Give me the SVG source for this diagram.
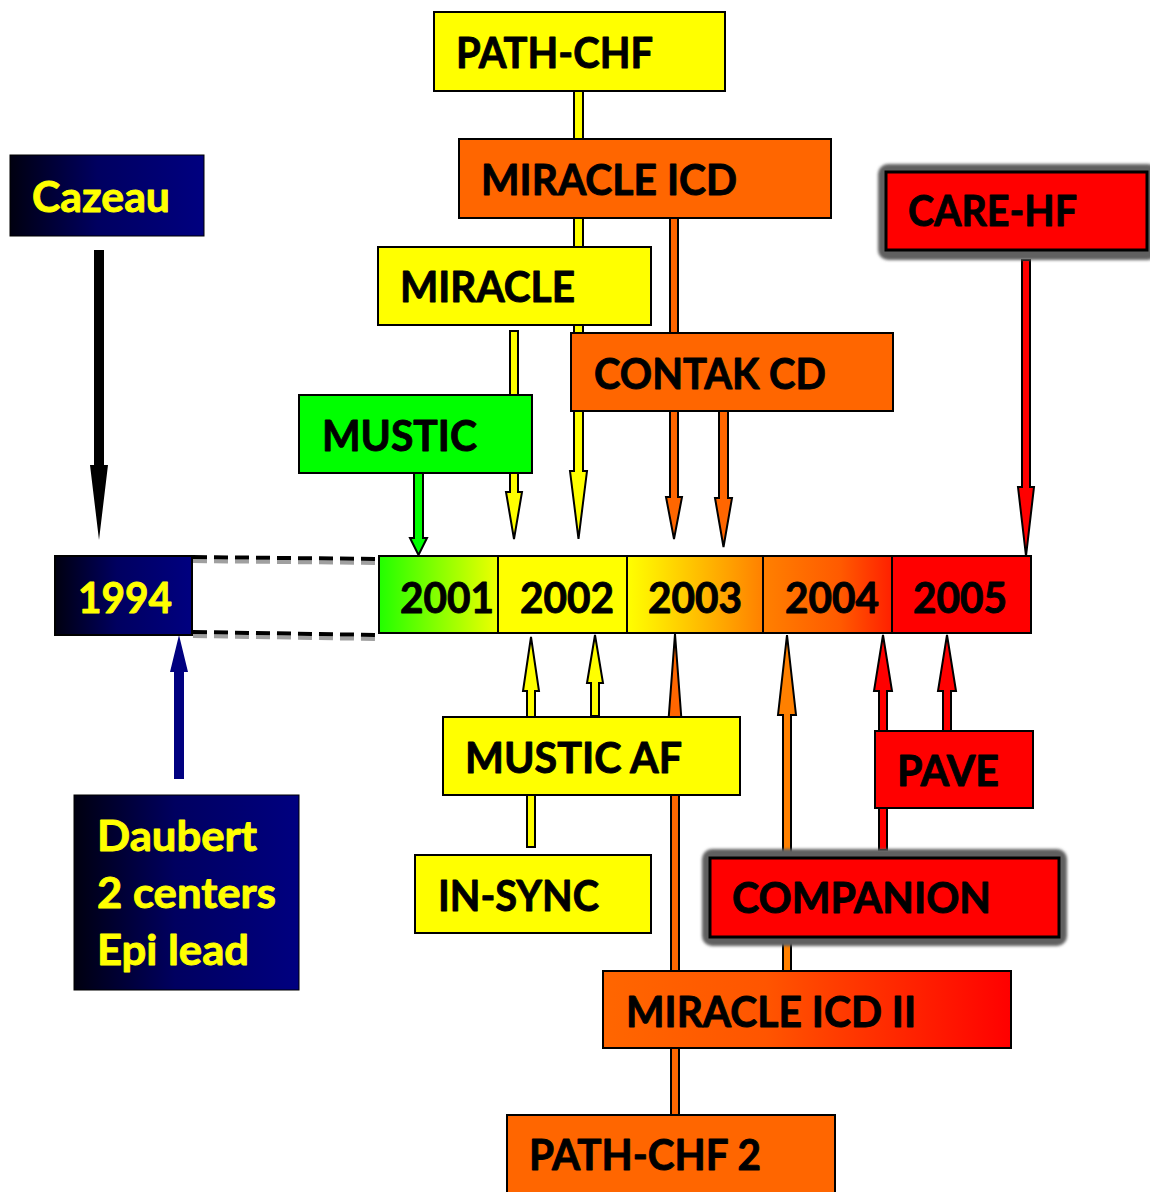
<svg xmlns="http://www.w3.org/2000/svg" width="1150" height="1192" viewBox="0 0 1150 1192">
<defs>
<linearGradient id="gNavy" x1="0" y1="0" x2="1" y2="0">
<stop offset="0" stop-color="#000010"/><stop offset="0.45" stop-color="#000060"/><stop offset="1" stop-color="#000080"/>
</linearGradient>
<linearGradient id="g2001" x1="0" y1="0" x2="1" y2="0">
<stop offset="0" stop-color="#22ff00"/><stop offset="1" stop-color="#eeff00"/>
</linearGradient>
<linearGradient id="g2003" x1="0" y1="0" x2="1" y2="0">
<stop offset="0" stop-color="#ffff00"/><stop offset="0.2" stop-color="#ffe800"/><stop offset="1" stop-color="#ff8000"/>
</linearGradient>
<linearGradient id="g2004" x1="0" y1="0" x2="1" y2="0">
<stop offset="0" stop-color="#ff8000"/><stop offset="0.6" stop-color="#ff5a00"/><stop offset="1" stop-color="#ff2000"/>
</linearGradient>
<linearGradient id="gICD2" x1="0" y1="0" x2="1" y2="0">
<stop offset="0" stop-color="#ff6600"/><stop offset="0.4" stop-color="#ff5500"/><stop offset="1" stop-color="#ff0000"/>
</linearGradient>
<filter id="blur" x="-10%" y="-20%" width="120%" height="140%">
<feGaussianBlur stdDeviation="1.8"/>
</filter>
</defs>
<style>
.t{font-family:Lato,"Open Sans","Liberation Sans",sans-serif;font-weight:bold;font-size:42px;fill:#000;stroke:#000;stroke-width:0.9;stroke-linejoin:round}
.y{fill:#ffff00;stroke:#ffff00}
.bx{stroke:#000;stroke-width:2}
.yel{fill:#ffff00}
.org{fill:#ff6600}
.red{fill:#ff0000}
.arr{stroke:#000;stroke-width:2;stroke-linejoin:miter}
.dash{fill:none;stroke:#000;stroke-width:4;stroke-dasharray:14 7}
.dsh{fill:none;stroke:#a0a0a0;stroke-width:4;stroke-dasharray:14 7}
.cell{fill:none;stroke:#000;stroke-width:2}
.shadow{fill:#606060}
</style>
<rect width="1150" height="1192" fill="#fff"/>

<g id="connectors">
<line class="dsh" x1="193" y1="561" x2="377" y2="563"/>
<line class="dash" x1="193" y1="557" x2="377" y2="559"/>
<line class="dsh" x1="193" y1="636" x2="377" y2="639"/>
<line class="dash" x1="193" y1="632" x2="377" y2="635"/>
<polygon fill="#000" points="94,250 104,250 104,465 108,465 99,540 90,465 94,465"/>
<polygon class="arr" fill="#00ff00" points="414,473 423,473 423,538 427,538 418.5,555 410,538 414,538"/>
<polygon class="arr yel" points="510,331 518,331 518,492 522,492 514,539 506,492 510,492"/>
<polygon class="arr yel" points="574,91 583,91 583,471 587,471 578.5,539 570,471 574,471"/>
<polygon class="arr org" points="670,218 678,218 678,497 682,497 674,539 666,497 670,497"/>
<polygon class="arr org" points="719,411 728,411 728,498 732,498 723.5,547 715,498 719,498"/>
<polygon class="arr red" points="1022,260 1030,260 1030,487 1034,487 1026,556 1018,487 1022,487"/>
<polygon fill="#000080" points="174,779 184,779 184,672 188,672 179,635 170,672 174,672"/>
<polygon class="arr yel" points="527,847 535,847 535,691 539,691 531,637 523,691 527,691"/>
<polygon class="arr yel" points="591,716 599,716 599,683 603,683 595,635 587,683 591,683"/>
<polygon class="arr org" points="671,1115 679,1115 679,740 683,740 675,634 667,740 671,740"/>
<polygon class="arr" fill="#ff8000" points="783,971 791,971 791,715 796,715 787,635 778,715 783,715"/>
<polygon class="arr red" points="879,850 887,850 887,691 892,691 883,635 874,691 879,691"/>
<polygon class="arr red" points="943,731 951,731 951,691 956,691 947,635 938,691 943,691"/>
</g>

<g id="timeline">
<rect x="379" y="556" width="119" height="77" fill="url(#g2001)"/>
<rect x="498" y="556" width="129" height="77" fill="#ffff00"/>
<rect x="627" y="556" width="136" height="77" fill="url(#g2003)"/>
<rect x="763" y="556" width="129" height="77" fill="url(#g2004)"/>
<rect x="892" y="556" width="139" height="77" fill="#ff0000"/>
<rect class="cell" x="379" y="556" width="652" height="77"/>
<line class="cell" x1="498" y1="556" x2="498" y2="633"/>
<line class="cell" x1="627" y1="556" x2="627" y2="633"/>
<line class="cell" x1="763" y1="556" x2="763" y2="633"/>
<line class="cell" x1="892" y1="556" x2="892" y2="633"/>
<text class="t" x="400" y="613" textLength="94" lengthAdjust="spacingAndGlyphs">2001</text>
<text class="t" x="520" y="613" textLength="94" lengthAdjust="spacingAndGlyphs">2002</text>
<text class="t" x="648" y="613" textLength="94" lengthAdjust="spacingAndGlyphs">2003</text>
<text class="t" x="785" y="613" textLength="94" lengthAdjust="spacingAndGlyphs">2004</text>
<text class="t" x="913" y="613" textLength="94" lengthAdjust="spacingAndGlyphs">2005</text>
</g>

<g id="y1994">
<rect class="bx" x="55" y="556" width="137" height="79" fill="url(#gNavy)"/>
<text class="t y" x="78" y="613" textLength="94" lengthAdjust="spacingAndGlyphs">1994</text>
</g>

<g id="cazeau">
<rect x="10" y="155" width="194" height="81" fill="url(#gNavy)" stroke="#000" stroke-width="1"/>
<text class="t y" x="32" y="212" textLength="138" lengthAdjust="spacingAndGlyphs">Cazeau</text>
</g>

<g id="daubert">
<rect x="74" y="795" width="225" height="195" fill="url(#gNavy)" stroke="#000" stroke-width="1"/>
<text class="t y" x="97" y="851" textLength="160" lengthAdjust="spacingAndGlyphs">Daubert</text>
<text class="t y" x="97" y="908" textLength="179" lengthAdjust="spacingAndGlyphs">2 centers</text>
<text class="t y" x="97" y="965" textLength="152" lengthAdjust="spacingAndGlyphs">Epi lead</text>
</g>

<g id="path-chf">
<rect class="bx yel" x="434" y="12" width="291" height="79"/>
<text class="t" x="456" y="68" textLength="197" lengthAdjust="spacingAndGlyphs">PATH-CHF</text>
</g>

<g id="miracle-icd">
<rect class="bx org" x="459" y="139" width="372" height="79"/>
<text class="t" x="481" y="195" textLength="256" lengthAdjust="spacingAndGlyphs">MIRACLE ICD</text>
</g>

<g id="care-hf">
<rect class="shadow" x="878" y="164" width="280" height="96" rx="10" filter="url(#blur)"/>
<rect x="886" y="172" width="261" height="78" fill="#ff0000" stroke="#000" stroke-width="3"/>
<text class="t" x="908" y="226" textLength="169" lengthAdjust="spacingAndGlyphs">CARE-HF</text>
</g>

<g id="miracle">
<rect class="bx yel" x="378" y="247" width="273" height="78"/>
<text class="t" x="400" y="302" textLength="175" lengthAdjust="spacingAndGlyphs">MIRACLE</text>
</g>

<g id="contak-cd">
<rect class="bx org" x="571" y="333" width="322" height="78"/>
<text class="t" x="594" y="389" textLength="232" lengthAdjust="spacingAndGlyphs">CONTAK CD</text>
</g>

<g id="mustic">
<rect class="bx" fill="#00ff00" x="299" y="395" width="233" height="78"/>
<text class="t" x="322" y="451" textLength="155" lengthAdjust="spacingAndGlyphs">MUSTIC</text>
</g>

<g id="mustic-af">
<rect class="bx yel" x="443" y="717" width="297" height="78"/>
<text class="t" x="465" y="773" textLength="217" lengthAdjust="spacingAndGlyphs">MUSTIC AF</text>
</g>

<g id="pave">
<rect class="bx red" x="875" y="731" width="158" height="77"/>
<text class="t" x="897" y="786" textLength="102" lengthAdjust="spacingAndGlyphs">PAVE</text>
</g>

<g id="in-sync">
<rect class="bx yel" x="415" y="855" width="236" height="78"/>
<text class="t" x="438" y="911" textLength="161" lengthAdjust="spacingAndGlyphs">IN-SYNC</text>
</g>

<g id="companion">
<rect class="shadow" x="702" y="849" width="365" height="97" rx="10" filter="url(#blur)"/>
<rect x="710" y="858" width="349" height="79" fill="#ff0000" stroke="#000" stroke-width="3"/>
<text class="t" x="732" y="913" textLength="259" lengthAdjust="spacingAndGlyphs">COMPANION</text>
</g>

<g id="miracle-icd-ii">
<rect class="bx" fill="url(#gICD2)" x="603" y="971" width="408" height="77"/>
<text class="t" x="626" y="1027" textLength="290" lengthAdjust="spacingAndGlyphs">MIRACLE ICD II</text>
</g>

<g id="path-chf-2">
<rect class="bx org" x="507" y="1115" width="328" height="90"/>
<text class="t" x="529" y="1170" textLength="232" lengthAdjust="spacingAndGlyphs">PATH-CHF 2</text>
</g>
</svg>
